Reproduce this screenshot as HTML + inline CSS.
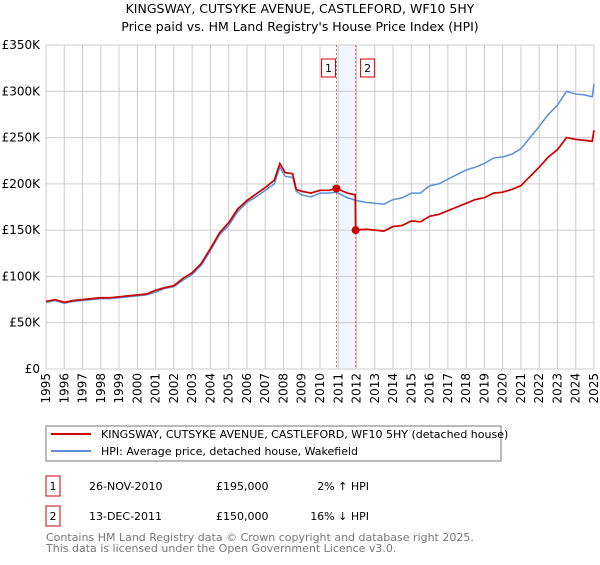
<!DOCTYPE html>
<html><head><meta charset="utf-8"><style>
body{margin:0;background:#fff;font-family:"Liberation Sans","DejaVu Sans",sans-serif;}
svg text{font-family:"DejaVu Sans","Liberation Sans",sans-serif;}
</style></head><body>
<svg id="c" width="600" height="560" viewBox="0 0 600 560" xmlns="http://www.w3.org/2000/svg">
<text x="300" y="13" text-anchor="middle" font-size="12.5" fill="#000">KINGSWAY, CUTSYKE AVENUE, CASTLEFORD, WF10 5HY</text>
<text x="300" y="31" text-anchor="middle" font-size="12.5" fill="#000">Price paid vs. HM Land Registry's House Price Index (HPI)</text>
<g id="grid"></g><g id="marks"></g><g id="axes"></g>
<rect x="46" y="426" width="455" height="35" fill="#fff" stroke="#777"/>
<line x1="51" y1="434" x2="91" y2="434" stroke="#cc0000" stroke-width="2"/>
<text x="101" y="438" font-size="11">KINGSWAY, CUTSYKE AVENUE, CASTLEFORD, WF10 5HY (detached house)</text>
<line x1="51" y1="451" x2="91" y2="451" stroke="#5b8fd6" stroke-width="2"/>
<text x="101" y="455" font-size="11">HPI: Average price, detached house, Wakefield</text>
<rect x="46" y="476" width="14" height="20" fill="none" stroke="#cc0000"/>
<text x="53" y="490" text-anchor="middle" font-size="11">1</text>
<text x="89" y="490" font-size="11">26-NOV-2010</text>
<text x="216" y="490" font-size="11">£195,000</text>
<text x="369" y="490" text-anchor="end" font-size="11">2% ↑ HPI</text>
<rect x="46" y="506" width="14" height="20" fill="none" stroke="#cc0000"/>
<text x="53" y="520" text-anchor="middle" font-size="11">2</text>
<text x="89" y="520" font-size="11">13-DEC-2011</text>
<text x="216" y="520" font-size="11">£150,000</text>
<text x="369" y="520" text-anchor="end" font-size="11">16% ↓ HPI</text>
<text x="46" y="541" font-size="11" fill="#777">Contains HM Land Registry data © Crown copyright and database right 2025.</text>
<text x="46" y="552" font-size="11" fill="#777">This data is licensed under the Open Government Licence v3.0.</text>
</svg>
<script>
const hpiYears=[1995,1995.5,1996,1996.5,1997,1997.5,1998,1998.5,1999,1999.5,2000,2000.5,2001,2001.5,2002,2002.5,2003,2003.5,2004,2004.5,2005,2005.5,2006,2006.5,2007,2007.5,2007.8,2008.1,2008.5,2008.7,2009,2009.5,2010,2010.5,2010.9,2011.5,2012,2012.5,2013,2013.5,2014,2014.5,2015,2015.5,2016,2016.5,2017,2017.5,2018,2018.5,2019,2019.5,2020,2020.5,2021,2021.5,2022,2022.5,2023,2023.5,2024,2024.5,2024.9,2025];
const hpiValues=[72,74,71,73,74,75,76,76,77,78,79,80,83,87,89,96,102,112,128,145,155,170,180,186,193,200,218,208,207,192,188,186,190,190,191,185,182,180,179,178,183,185,190,190,198,200,205,210,215,218,222,228,229,232,238,250,262,275,285,300,297,296,294,308];
const redYears=[1995,1995.5,1996,1996.5,1997,1997.5,1998,1998.5,1999,1999.5,2000,2000.5,2001,2001.5,2002,2002.5,2003,2003.5,2004,2004.5,2005,2005.5,2006,2006.5,2007,2007.5,2007.8,2008.1,2008.5,2008.7,2009,2009.5,2010,2010.5,2010.9,2011.5,2011.93,2011.95,2012.5,2013,2013.5,2014,2014.5,2015,2015.5,2016,2016.5,2017,2017.5,2018,2018.5,2019,2019.5,2020,2020.5,2021,2021.5,2022,2022.5,2023,2023.5,2024,2024.5,2024.9,2025];
const redValues=[73,75,72,74,75,76,77,77,78,79,80,81,85,88,90,98,104,114,130,147,158,173,182,189,196,204,222,212,211,194,192,190,193,193,195,190,188,150,151,150,149,154,155,160,159,165,167,171,175,179,183,185,190,191,194,198,208,218,229,237,250,248,247,246,258];
const sales=[[2010.9,195],[2011.95,150]];
const yTicks=[0,50,100,150,200,250,300,350];
const yLabels=["£0","£50K","£100K","£150K","£200K","£250K","£300K","£350K"];
const xTicks=[];for(let y=1995;y<=2025;y++)xTicks.push(y);
const L=46,R=594,T=45,B=369;
const xs=y=>L+(y-1995)/30*(R-L), ys=v=>B-v/350*(B-T);
const NS="http://www.w3.org/2000/svg";
function mk(tag,attrs,parent){const e=document.createElementNS(NS,tag);for(const k in attrs)e.setAttribute(k,attrs[k]);parent.appendChild(e);return e;}
const grid=document.getElementById('grid'),marks=document.getElementById('marks'),axes=document.getElementById('axes');
let sh=mk('rect',{x:xs(2010.9),y:T,width:xs(2011.95)-xs(2010.9),height:B-T,fill:'#f1f5fd'},grid);


yTicks.forEach((v,i)=>{
 let l=mk('line',{x1:L,x2:R,y1:ys(v),y2:ys(v),stroke:'#cccccc'},grid);
 
 
 let t=mk('text',{x:L-6,y:ys(v)+4,'text-anchor':'end','font-size':'12'},axes);
 t.textContent=yLabels[i];
 
 
});
xTicks.forEach(y=>{
 let l=mk('line',{x1:xs(y),x2:xs(y),y1:T,y2:B,stroke:'#cccccc'},grid);
 
 
 let t=mk('text',{x:0,y:0,'text-anchor':'end','font-size':'12',transform:`translate(${xs(y)+4},${B+4}) rotate(-90)`},axes);
 t.textContent=y;
 
 
});
sales.forEach((s,i)=>{
 let d=mk('line',{x1:xs(s[0]),x2:xs(s[0]),y1:T,y2:B,stroke:'#e06060','stroke-dasharray':'2,2'},grid);
 
 
 let bx=xs(s[0])+(i==0?-15:5);
 let r=mk('rect',{x:bx,y:59,width:14,height:18,fill:'#fff',stroke:'#cc0000'},axes);
 
 
 let t=mk('text',{x:bx+7,y:72,'text-anchor':'middle','font-size':'11'},axes);
 t.textContent=String(i+1);
 
 
});
let hp=mk('polyline',{points:hpiYears.map((y,i)=>xs(y)+','+ys(hpiValues[i])).join(' '),fill:'none',stroke:'#5b8fd6','stroke-width':1.5},marks);


let rp=mk('polyline',{points:redYears.map((y,i)=>xs(y)+','+ys(redValues[i])).join(' '),fill:'none',stroke:'#cc0000','stroke-width':1.7},marks);


sales.forEach(s=>{
 let c=mk('circle',{cx:xs(s[0]),cy:ys(s[1]),r:4,fill:'#cc0000'},marks);
 
 
});
</script>
</body></html>
